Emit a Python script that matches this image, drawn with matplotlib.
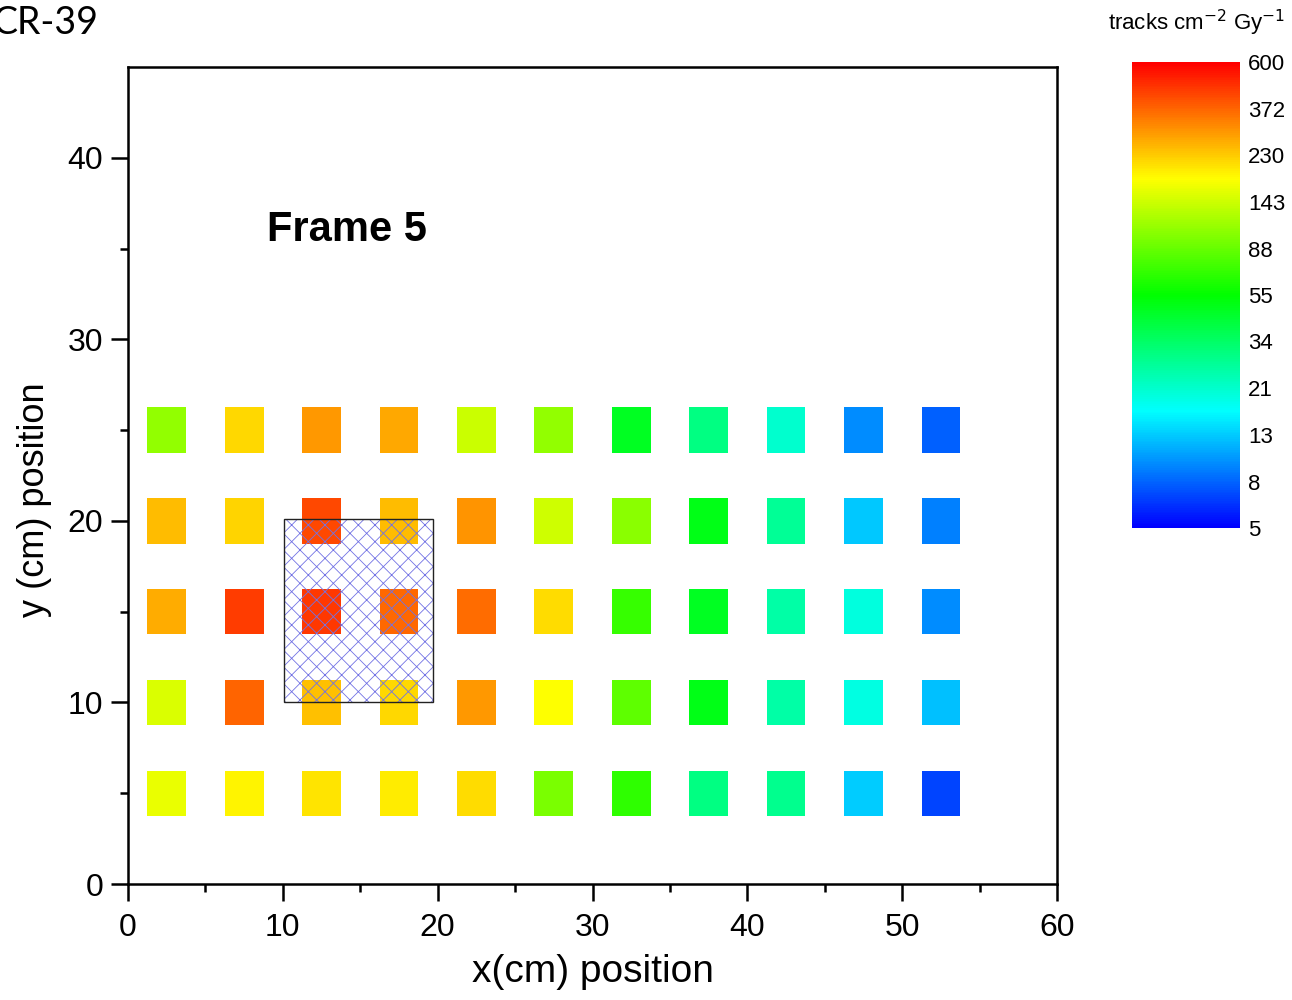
#!/usr/bin/env python3

import numpy as np
import matplotlib
matplotlib.use('Agg')
import matplotlib.pyplot as plt
from matplotlib.colors import LinearSegmentedColormap, LogNorm, hsv_to_rgb
from matplotlib.patches import Rectangle
from matplotlib.cm import ScalarMappable

plt.rcParams['font.family'] = ['Liberation Sans', 'DejaVu Sans']
plt.rcParams['hatch.linewidth'] = 0.6

# detector grid (cm)
x_pos = [2.5, 7.5, 12.5, 17.5, 22.5, 27.5, 32.5, 37.5, 42.5, 47.5, 52.5]
y_pos = [25, 20, 15, 10, 5]
# tracks cm-2 Gy-1, one list per row (top to bottom)
row_25 = [108, 217, 292, 270, 140, 108, 47, 30, 21, 9.8, 7.9]
row_20 = [245, 221, 427, 245, 298, 143, 104, 49, 27, 12.8, 9.1]
row_15 = [265, 445, 454, 364, 357, 213, 70, 47, 25, 19.4, 9.8]
row_10 = [151, 372, 240, 217, 292, 181, 85, 49, 25, 19, 12.3]
row_05 = [164, 189, 204, 196, 213, 96, 68, 30, 28, 13, 6.9]
rows = [row_25, row_20, row_15, row_10, row_05]

cb_ticks = [5, 8, 13, 21, 34, 55, 88, 143, 230, 372, 600]
vmin = 5; vmax = 600
sq = 2.5  # square size in cm

# rainbow palette: blue -> red through hue
hues = np.linspace(240, 0, 256) / 360.
rgb = hsv_to_rgb(np.column_stack([hues, np.ones(256), np.ones(256)]))
cmap = LinearSegmentedColormap.from_list('rainbow_o', rgb)
norm = LogNorm(vmin=vmin, vmax=vmax)

fig = plt.figure(figsize=(12.92, 10), dpi=100)
ax = fig.add_axes([0.0991, 0.116, 0.719, 0.817])

for y, vals in zip(y_pos, rows):
    ax.bar(x_pos, sq, width=sq, bottom=y - sq / 2,
           color=cmap(norm(np.array(vals))), linewidth=0, zorder=2)

# shaded region
ax.add_patch(Rectangle((10.1, 10.05), 9.6, 10.05, fill=False, edgecolor='#7272e4',
                       linewidth=0, hatch='xx', zorder=3))
ax.add_patch(Rectangle((10.1, 10.05), 9.6, 10.05, fill=False, edgecolor='#222222',
                       linewidth=1.0, zorder=4))

ax.set_xlim(0, 60)
ax.set_ylim(0, 45)
ax.set_xticks(np.arange(0, 61, 10))
ax.set_xticks(np.arange(5, 60, 10), minor=True)
ax.set_yticks(np.arange(0, 41, 10))
ax.set_yticks(np.arange(5, 45, 10), minor=True)
ax.tick_params(which='major', direction='out', length=12, width=1.8, labelsize=23, pad=6)
ax.tick_params(axis='x', which='major', pad=9)
ax.tick_params(which='minor', direction='out', length=6, width=1.8)
for s in ax.spines.values():
    s.set_linewidth(1.8)

ax.set_xlabel('x(cm) position', fontsize=28, labelpad=8)
ax.set_ylabel('y (cm) position', fontsize=26)
ax.yaxis.set_label_coords(-0.082, 0.471)
ax.text(9, 36, 'Frame 5', fontsize=30, fontweight='bold', ha='left', va='center')

# colorbar
cax = fig.add_axes([0.876, 0.472, 0.0836, 0.466])
cb = fig.colorbar(ScalarMappable(norm=norm, cmap=cmap), cax=cax)
cb.outline.set_visible(False)
cb.set_ticks(cb_ticks)
cb.set_ticklabels([str(t) for t in cb_ticks])
cb.minorticks_off()
cax.tick_params(length=0, labelsize=16, pad=6)
fig.text(0.9265, 0.977, 'tracks cm$^{-2}$ Gy$^{-1}$', fontsize=16, ha='center', va='center')

fig.text(-0.006, 0.977, 'CR-39', fontsize=27, family=['Lato', 'DejaVu Sans'],
         ha='left', va='center')

fig.savefig('out.png', dpi=100)
plt.close()
